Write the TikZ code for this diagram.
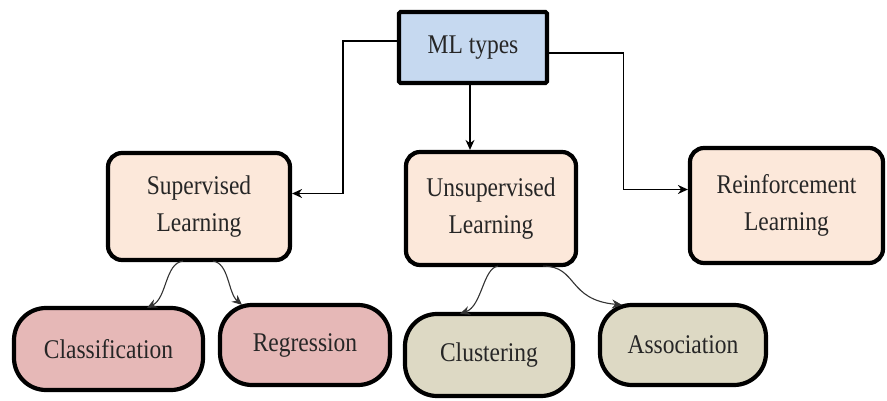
\documentclass[tikz,border=0pt]{standalone}
\usepackage{fontspec}
\setmainfont{Liberation Serif}
\newfontfamily\condserif{Liberation Serif}[FakeStretch=0.87]
\usetikzlibrary{arrows.meta}
\definecolor{mlblue}{HTML}{C6D9F0}
\definecolor{peach}{HTML}{FCE8DA}
\definecolor{pinkc}{HTML}{E6B8B7}
\definecolor{greige}{HTML}{DDD9C4}
\tikzset{
  base/.style={draw=black, line width=4.2pt, align=center, inner sep=0pt,
    font=\condserif\fontsize{27}{37}\selectfont, text=black!85},
  topbox/.style={base, fill=mlblue, rounded corners=1.5pt},
  midbox/.style={base, fill=peach, rounded corners=14pt},
  leafbox/.style={base, fill=pinkc, rounded corners=32pt},
  leafbox2/.style={base, fill=greige, rounded corners=32pt},
  conn/.style={draw=black, line width=1.2pt, -{Stealth[length=10pt,width=9pt]}},
  carrow/.style={draw=black!80, line width=1.1pt, -{Stealth[length=10pt,width=9pt]}}
}
\begin{document}
\begin{tikzpicture}[x=1pt,y=-1pt]
\useasboundingbox (0,0) rectangle (887,401);
\node[topbox, minimum width=148pt, minimum height=71pt] (ML) at (473,47.5) {ML types};
\node[midbox, minimum width=182pt, minimum height=107pt] (SL) at (199,206.5) {Supervised\\Learning};
\node[midbox, minimum width=170pt, minimum height=113pt] (UL) at (491,208.5) {Unsupervised\\Learning};
\node[midbox, minimum width=193pt, minimum height=115pt] (RL) at (786.5,205.5) {Reinforcement\\Learning};
\node[leafbox, minimum width=189pt, minimum height=82pt] (CL) at (108.5,349) {Classification};
\node[leafbox, minimum width=170pt, minimum height=80pt] (RG) at (305,345) {Regression};
\node[leafbox2, minimum width=168pt, minimum height=82pt] (CU) at (489,355) {Clustering};
\node[leafbox2, minimum width=166pt, minimum height=80pt] (AS) at (683,345) {Association};

\draw[conn] ([yshift=6.5pt]ML.west) -- ++(-54,0) |- ([yshift=13pt]SL.east);
\draw[conn] ([yshift=-5.5pt]ML.east) -- ++(74,0) |- ([yshift=16pt]RL.west);
\draw[conn] ([xshift=-3pt]ML.south) -- ([xshift=-3pt]ML.south |- UL.north);

\draw[carrow] ([xshift=-16pt,yshift=1pt]SL.south) .. controls +(-18,2) and +(20,-10) .. ([xshift=38.5pt,yshift=-2pt]CL.north);
\draw[carrow] ([xshift=14pt,yshift=1pt]SL.south) .. controls +(16,2) and +(-14,-12) .. ([xshift=-63pt,yshift=-2pt]RG.north);
\draw[carrow] ([xshift=7pt,yshift=1pt]UL.south) .. controls +(-15,2) and +(22,-8) .. ([xshift=-29pt,yshift=-2pt]CU.north);
\draw[carrow] ([xshift=52pt,yshift=1pt]UL.south) .. controls +(35,0) and +(-55,-5) .. ([xshift=-61pt,yshift=-2pt]AS.north);
\end{tikzpicture}
\end{document}
